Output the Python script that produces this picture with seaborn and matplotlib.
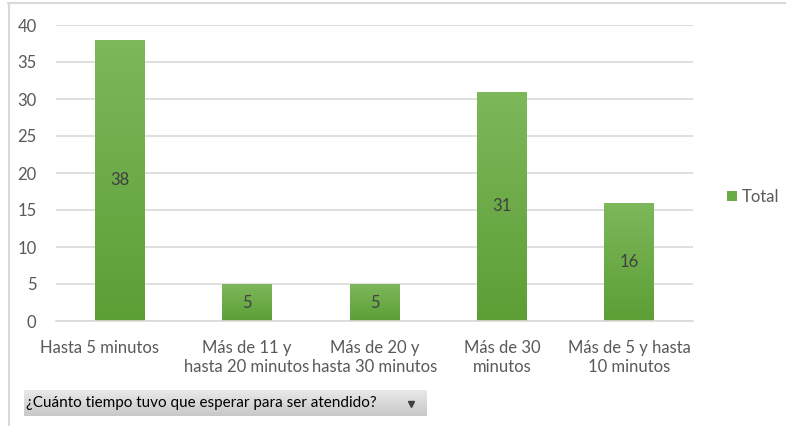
import numpy as np
import pandas as pd
import matplotlib
matplotlib.use("Agg")
import matplotlib.pyplot as plt
import matplotlib.transforms as mtransforms
import seaborn as sns
from matplotlib.colors import LinearSegmentedColormap

categorias = ["Hasta 5 minutos", "Más de 11 y\nhasta 20 minutos", "Más de 20 y\nhasta 30 minutos",
              "Más de 30\nminutos", "Más de 5 y hasta\n10 minutos"]
totales = [38, 5, 5, 31, 16]
yticks = [0, 5, 10, 15, 20, 25, 30, 35, 40]

sns.set_style("white")
plt.rcParams['font.family'] = ['Lato', 'DejaVu Sans']
gris = "#595959"

df = pd.DataFrame({"cat": categorias, "Total": totales})

fig = plt.figure(figsize=(7.86, 4.26), dpi=100)
ax = fig.add_axes([56 / 786, 1 - 321 / 426, (693 - 56) / 786, (321 - 25) / 426])

sns.barplot(data=df, x="cat", y="Total", color="#6aad45", width=0.39, ax=ax, label="Total",
            saturation=1)

# degradado vertical en las barras
cmap = LinearSegmentedColormap.from_list("verde", ["#5c9f35", "#7db85b"])
grad = np.linspace(0, 1, 256).reshape(-1, 1)
for p in list(ax.patches):
    x0, w, h = p.get_x(), p.get_width(), p.get_height()
    im = ax.imshow(grad, cmap=cmap, origin="lower", aspect="auto",
                   extent=[x0, x0 + w, 0, h], zorder=2)
    im.set_clip_path(p)
    p.set_edgecolor("none")
ax.set_xlim(-0.5, len(categorias) - 0.5)
ax.set_ylim(0, 40)

for i, v in enumerate(totales):
    ax.text(i, v / 2, str(v), ha="center", va="center", fontsize=12, color="#404040", zorder=3)

ax.set_yticks(yticks)
ax.yaxis.grid(True, color="#d9d9d9", linewidth=1.2)
ax.set_axisbelow(True)
for s in ["top", "right", "left"]:
    ax.spines[s].set_visible(False)
ax.spines["bottom"].set_color("#d9d9d9")
ax.spines["bottom"].set_linewidth(1.2)
ax.tick_params(axis="both", length=0, labelsize=12, labelcolor=gris)
ax.tick_params(axis="y", pad=14)
ax.tick_params(axis="x", pad=14)
ax.set_xlabel("")
ax.set_ylabel("")

# la primera etiqueta aparece desplazada a la izquierda en el original
primera = ax.get_xticklabels()[0]
primera.set_transform(primera.get_transform() +
                      mtransforms.ScaledTranslation(-0.2, 0, fig.dpi_scale_trans))

# leyenda
leg = ax.legend(loc="center left", bbox_to_anchor=(1.03, 0.42), frameon=False,
                fontsize=12, handlelength=0.6, handleheight=0.6, handletextpad=0.3,
                labelcolor=gris)

# marco exterior
fig.add_artist(plt.Line2D([8 / 786, 1], [1 - 3 / 426] * 2, color="#d9d9d9", lw=1.5))
fig.add_artist(plt.Line2D([9 / 786] * 2, [0, 1 - 3 / 426], color="#d9d9d9", lw=1.5))

# botón de filtro
bax = fig.add_axes([24 / 786, 1 - 416 / 426, (427 - 24) / 786, (416 - 390) / 426])
bgrad = np.linspace(0, 1, 64).reshape(-1, 1)
bax.imshow(bgrad, cmap=LinearSegmentedColormap.from_list("gris", ["#c8c8c8", "#e9e9e9"]),
           origin="lower", aspect="auto", extent=[0, 1, 0, 1])
bax.set_xlim(0, 1)
bax.set_ylim(0, 1)
bax.axis("off")
bax.text(0.006, 0.5, "¿Cuánto tiempo tuvo que esperar para ser atendido?", ha="left", va="center",
         fontsize=11, color="#000000")
bax.plot([0.96], [0.48], marker="v", color="#404040", markersize=4)

fig.savefig("out.png", dpi=100)
